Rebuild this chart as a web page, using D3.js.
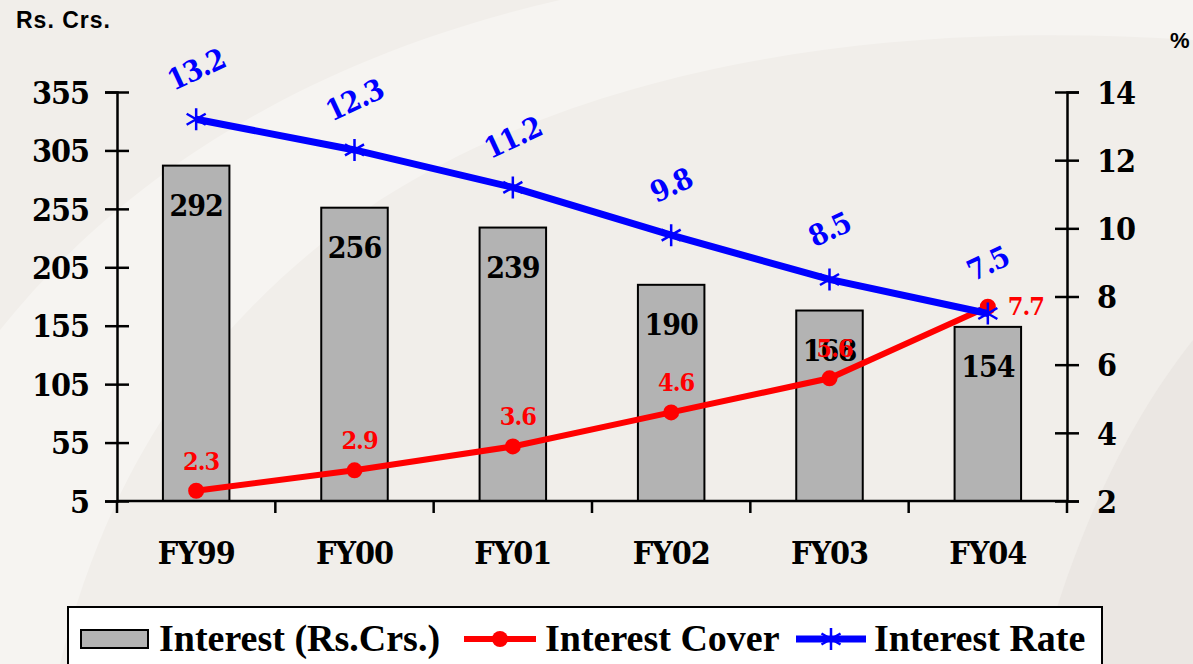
<!DOCTYPE html>
<html>
<head>
<meta charset="utf-8">
<script src="https://cdn.jsdelivr.net/npm/d3@7"></script>
<style>
  body { margin: 0; background: #f1eeea; }
  svg { display: block; }
</style>
</head>
<body>
<div class="chart"></div>
<script>
const years = ['FY99', 'FY00', 'FY01', 'FY02', 'FY03', 'FY04'];
const interest = [292, 256, 239, 190, 168, 154];
const interestCover = [2.3, 2.9, 3.6, 4.6, 5.6, 7.7];
const interestRate = [13.2, 12.3, 11.2, 9.8, 8.5, 7.5];
const leftTicks = [5, 55, 105, 155, 205, 255, 305, 355];
const rightTicks = [2, 4, 6, 8, 10, 12, 14];

const width = 1193;
const height = 664;
const serif = '"Liberation Serif", "Times New Roman", serif';
const heavy = '"DejaVu Serif Condensed", "DejaVu Serif", serif';
const sans = '"Liberation Sans", Arial, sans-serif';

let svg = d3.select('.chart')
  .append('svg')
  .attr('width', width)
  .attr('height', height);

// soft background shapes
svg.append('rect').attr('width', width).attr('height', height).attr('fill', '#f1eeea');
svg.append('path')
  .attr('d', 'M0,330 C120,180 300,60 560,0 L1193,0 L1193,40 C900,20 600,60 380,200 C250,290 120,420 60,664 L0,664 Z')
  .attr('fill', '#f6f4f1');
svg.append('path')
  .attr('d', 'M1040,664 C1080,520 1130,420 1193,340 L1193,664 Z')
  .attr('fill', '#ebe7e3');

let x = d3.scaleBand()
  .domain(years)
  .range([117, 1067])
  .paddingInner(0.58)
  .paddingOuter(0.29);

let yLeft = d3.scaleLinear().domain([5, 355]).range([501, 92]);
let yRight = d3.scaleLinear().domain([2, 14]).range([501, 92]);

// bars
svg.selectAll('.bar')
  .data(interest)
  .enter()
  .append('rect')
  .attr('class', 'bar')
  .attr('x', (d, i) => x(years[i]))
  .attr('y', d => yLeft(d))
  .attr('width', x.bandwidth())
  .attr('height', d => yLeft(5) - yLeft(d))
  .attr('fill', '#b3b3b3')
  .attr('stroke', '#000')
  .attr('stroke-width', 2);

svg.selectAll('.bar-label')
  .data(interest)
  .enter()
  .append('text')
  .attr('class', 'bar-label')
  .attr('x', (d, i) => x(years[i]) + x.bandwidth() / 2)
  .attr('y', d => yLeft(d) + 50)
  .attr('text-anchor', 'middle')
  .style('font-family', heavy)
  .style('font-weight', 'bold')
  .style('font-size', '30px')
  .style('letter-spacing', '-1px')
  .text(d => d);

// axes
function styleAxis(g) {
  g.select('.domain').attr('stroke', '#000').attr('stroke-width', 2.5);
  g.selectAll('.tick line').attr('stroke', '#000').attr('stroke-width', 2.5);
  g.selectAll('.tick text')
    .style('font-family', heavy)
    .style('font-weight', 'bold')
    .style('font-size', '32px')
    .style('letter-spacing', '-1px')
    .attr('fill', '#000');
}

let leftAxis = svg.append('g')
  .attr('transform', 'translate(117,0)')
  .call(d3.axisLeft(yLeft).tickValues(leftTicks).tickSizeOuter(0).tickSize(12).tickPadding(16));
styleAxis(leftAxis);
leftAxis.selectAll('.tick line').attr('x1', -12).attr('x2', 12);
leftAxis.selectAll('.tick text').attr('dy', '0.35em');

let rightAxis = svg.append('g')
  .attr('transform', 'translate(1067,0)')
  .call(d3.axisRight(yRight).tickValues(rightTicks).tickSizeOuter(0).tickSize(12).tickPadding(18));
styleAxis(rightAxis);
rightAxis.selectAll('.tick line').attr('x1', -12).attr('x2', 12);
rightAxis.selectAll('.tick text').attr('dy', '0.35em');

let bottomAxis = svg.append('g')
  .attr('transform', 'translate(0,501)')
  .call(d3.axisBottom(x).tickSize(0).tickSizeOuter(0).tickPadding(40));
styleAxis(bottomAxis);
bottomAxis.select('.domain').attr('d', `M${x.range()[0]},0H${x.range()[1]}`);
bottomAxis.selectAll('.tick text').attr('dy', '0.71em');

// category boundary ticks
const boundaries = d3.range(years.length + 1).map(i => x.range()[0] + i * x.step());
svg.append('g')
  .selectAll('line')
  .data(boundaries)
  .enter()
  .append('line')
  .attr('x1', d => d)
  .attr('x2', d => d)
  .attr('y1', 501)
  .attr('y2', 513)
  .attr('stroke', '#000')
  .attr('stroke-width', 2.5);

const cx = i => x(years[i]) + x.bandwidth() / 2;

// interest cover line (red)
let coverLine = d3.line()
  .x((d, i) => cx(i))
  .y(d => yRight(d));

svg.append('path')
  .datum(interestCover)
  .attr('d', coverLine)
  .attr('fill', 'none')
  .attr('stroke', '#ff0000')
  .attr('stroke-width', 6);

svg.selectAll('.cover-dot')
  .data(interestCover)
  .enter()
  .append('circle')
  .attr('cx', (d, i) => cx(i))
  .attr('cy', d => yRight(d))
  .attr('r', 8)
  .attr('fill', '#ff0000');

// interest rate line (blue)
let rateLine = d3.line()
  .x((d, i) => cx(i))
  .y(d => yRight(d));

svg.append('path')
  .datum(interestRate)
  .attr('d', rateLine)
  .attr('fill', 'none')
  .attr('stroke', '#0000ff')
  .attr('stroke-width', 7);

function asterisk(r) {
  let a = Math.PI / 6;
  let dx = r * Math.cos(a), dy = r * Math.sin(a);
  return `M0,${-r}V${r}M${-dx},${-dy}L${dx},${dy}M${-dx},${dy}L${dx},${-dy}`;
}

svg.selectAll('.rate-mark')
  .data(interestRate)
  .enter()
  .append('path')
  .attr('transform', (d, i) => `translate(${cx(i)},${yRight(d)})`)
  .attr('d', asterisk(11))
  .attr('stroke', '#0000ff')
  .attr('stroke-width', 2.5)
  .attr('fill', 'none');

// labels
svg.selectAll('.rate-label')
  .data(interestRate)
  .enter()
  .append('text')
  .attr('transform', (d, i) => `translate(${cx(i)},${yRight(d) - 50}) rotate(-25)`)
  .attr('text-anchor', 'middle')
  .attr('dy', '0.35em')
  .attr('fill', '#0000ff')
  .style('font-family', heavy)
  .style('font-weight', 'bold')
  .style('font-size', '29px')
  .style('letter-spacing', '-1px')
  .text(d => d.toFixed(1));

svg.selectAll('.cover-label')
  .data(interestCover)
  .enter()
  .append('text')
  .attr('x', (d, i) => i === interestCover.length - 1 ? cx(i) + 20 : cx(i) + 5)
  .attr('y', (d, i) => i === interestCover.length - 1 ? yRight(d) : yRight(d) - 30)
  .attr('text-anchor', (d, i) => i === interestCover.length - 1 ? 'start' : 'middle')
  .attr('dy', '0.35em')
  .attr('fill', '#ff0000')
  .style('font-family', heavy)
  .style('font-weight', 'bold')
  .style('font-size', '25px')
  .style('letter-spacing', '-1px')
  .text(d => d.toFixed(1));

// unit captions
svg.append('text')
  .attr('x', 16).attr('y', 28)
  .style('font-family', sans).style('font-weight', 'bold').style('font-size', '23px')
  .style('letter-spacing', '1px')
  .text('Rs. Crs.');

svg.append('text')
  .attr('x', 1170).attr('y', 48)
  .style('font-family', sans).style('font-weight', 'bold').style('font-size', '22px')
  .text('%');

// legend
let legend = svg.append('g');
legend.append('rect')
  .attr('x', 68).attr('y', 607)
  .attr('width', 1034).attr('height', 70)
  .attr('fill', '#fff')
  .attr('stroke', '#000')
  .attr('stroke-width', 2);

legend.append('rect')
  .attr('x', 81).attr('y', 630)
  .attr('width', 67).attr('height', 18)
  .attr('fill', '#b3b3b3')
  .attr('stroke', '#000')
  .attr('stroke-width', 2);

legend.append('line')
  .attr('x1', 464).attr('x2', 536).attr('y1', 639).attr('y2', 639)
  .attr('stroke', '#ff0000').attr('stroke-width', 6);
legend.append('circle')
  .attr('cx', 500).attr('cy', 639).attr('r', 8).attr('fill', '#ff0000');

legend.append('line')
  .attr('x1', 796).attr('x2', 866).attr('y1', 639).attr('y2', 639)
  .attr('stroke', '#0000ff').attr('stroke-width', 7);
legend.append('path')
  .attr('transform', 'translate(831,639)')
  .attr('d', asterisk(11))
  .attr('stroke', '#0000ff').attr('stroke-width', 2.5).attr('fill', 'none');

const legendItems = [
  {label: 'Interest (Rs.Crs.)', x: 159},
  {label: 'Interest Cover', x: 545},
  {label: 'Interest Rate', x: 874}
];
legend.selectAll('.legend-text')
  .data(legendItems)
  .enter()
  .append('text')
  .attr('x', d => d.x)
  .attr('y', 651)
  .style('font-family', serif)
  .style('font-weight', 'bold')
  .style('font-size', '38px')
  .text(d => d.label);
</script>
</body>
</html>
